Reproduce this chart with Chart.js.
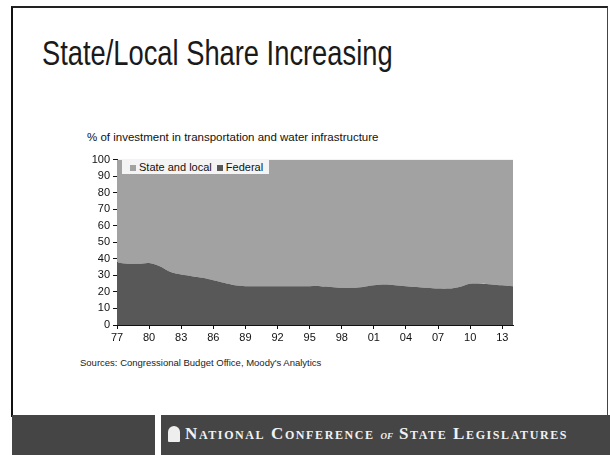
<!DOCTYPE html>
<html>
<head>
<meta charset="utf-8">
<script src="https://cdn.jsdelivr.net/npm/chart.js@4.4.0/dist/chart.umd.min.js"></script>
<style>
  html, body { margin: 0; padding: 0; background: #fff; }
  #page { position: relative; width: 610px; height: 455px; overflow: hidden; font-family: "Liberation Sans", Arial, sans-serif; }
  #frame { position: absolute; left: 11px; top: 6px; width: 594px; height: 409px; border-left: 2px solid #111; border-top: 2px solid #222; border-right: 1px solid #444; }
  #title { position: absolute; left: 42px; top: 33px; font-family: "Liberation Sans", sans-serif; font-size: 35px; color: #1a1a1a; white-space: nowrap; transform: scaleX(0.78); transform-origin: left top; }
  #subtitle { position: absolute; left: 87px; top: 131px; font-size: 11.5px; color: #111; white-space: nowrap; }
  #source { position: absolute; left: 80px; top: 357px; font-size: 9.5px; color: #222; white-space: nowrap; }
  #chartBox { position: absolute; left: 80px; top: 150px; width: 440px; height: 200px; }
  #legend { position: absolute; left: 122px; top: 160px; height: 14px; padding: 0 6px; background: #f4f4f4; font-size: 11px; color: #111; line-height: 14px; white-space: nowrap; }
  #legend span.sw { display: inline-block; width: 6px; height: 6px; margin: 0 3px 1px 2px; vertical-align: middle; }
  #bandL { position: absolute; left: 12px; top: 415px; width: 143px; height: 40px; background: #454545; }
  #bandR { position: absolute; left: 161px; top: 415px; width: 449px; height: 40px; background: #454545; }
  #org { position: absolute; left: 185px; top: 424px; font-family: "Liberation Serif", serif; font-variant: small-caps; font-weight: bold; font-size: 17px; letter-spacing: 1.6px; color: #f2f2f2; white-space: nowrap; }
  #org i { font-size: 13px; letter-spacing: 0; }
  #icon { position: absolute; left: 168px; top: 426px; width: 12px; height: 16px; background: #eee; border-radius: 6px 6px 1px 1px; }
</style>
</head>
<body>
<div id="page">
  <div id="frame"></div>
  <div id="title">State/Local Share Increasing</div>
  <div id="subtitle">% of investment in transportation and water infrastructure</div>
  <div id="chartBox"><canvas id="c" width="440" height="200"></canvas></div>
  <div id="legend"></div>
  <div id="source">Sources: Congressional Budget Office, Moody's Analytics</div>
  <div id="bandL"></div>
  <div id="bandR"></div>
  <div id="icon"></div>
  <div id="org">National Conference <i>of</i> State Legislatures</div>
</div>
<script>
const years = [1977, 1978, 1979, 1980, 1981, 1982, 1983, 1984, 1985, 1986,
  1987, 1988, 1989, 1990, 1991, 1992, 1993, 1994, 1995, 1996,
  1997, 1998, 1999, 2000, 2001, 2002, 2003, 2004, 2005, 2006,
  2007, 2008, 2009, 2010, 2011, 2012, 2013, 2014];
const federal = [38, 37, 37, 37.5, 35.5, 32, 30.5, 29.5, 28.5, 27,
  25.5, 24, 23.5, 23.5, 23.5, 23.5, 23.5, 23.5, 23.5, 23.5,
  23, 22.5, 22.5, 23, 24, 24.5, 24, 23.5, 23, 22.5,
  22, 22, 23, 25, 25, 24.5, 24, 23.5];
const stateLocal = [62, 63, 63, 62.5, 64.5, 68, 69.5, 70.5, 71.5, 73,
  74.5, 76, 76.5, 76.5, 76.5, 76.5, 76.5, 76.5, 76.5, 76.5,
  77, 77.5, 77.5, 77, 76, 75.5, 76, 76.5, 77, 77.5,
  78, 78, 77, 75, 75, 75.5, 76, 76.5];
const yTicks = [0, 10, 20, 30, 40, 50, 60, 70, 80, 90, 100];
const seriesNames = ["State and local", "Federal"];
const seriesColors = ["#a2a2a2", "#585858"];

const toPoints = (vals) => vals.map((v, i) => ({ x: years[i], y: v }));

const legend = document.getElementById("legend");
legend.innerHTML = seriesNames
  .map((n, i) => `<span class="sw" style="background:${seriesColors[i]}"></span>${n}`)
  .join("&nbsp;");

// federal is stacked first (bottom), state and local sits on top of it
new Chart(document.getElementById("c").getContext("2d"), {
  type: "line",
  data: {
    datasets: [
      {
        label: seriesNames[1],
        data: toPoints(federal),
        backgroundColor: seriesColors[1],
        borderColor: seriesColors[1],
        borderWidth: 0,
        pointRadius: 0,
        tension: 0.3,
        fill: "origin",
      },
      {
        label: seriesNames[0],
        data: toPoints(stateLocal),
        backgroundColor: seriesColors[0],
        borderColor: seriesColors[0],
        borderWidth: 0,
        pointRadius: 0,
        tension: 0.3,
        fill: "-1",
      },
    ],
  },
  options: {
    responsive: false,
    animation: false,
    layout: { padding: { top: 7, right: 7, left: 0, bottom: 0 } },
    plugins: { legend: { display: false }, tooltip: { enabled: false } },
    scales: {
      x: {
        type: "linear",
        min: 1977,
        max: 2014,
        border: { color: "#111", width: 1 },
        grid: { drawOnChartArea: false, tickLength: 4, color: "#111" },
        ticks: {
          stepSize: 3,
          includeBounds: false,
          color: "#111",
          padding: 2,
          font: { family: "Liberation Sans", size: 11 },
          callback: (v) => String(v).slice(2),
        },
        afterFit: (s) => { s.height = 25; },
      },
      y: {
        stacked: true,
        min: 0,
        max: 100,
        border: { color: "#111", width: 1 },
        grid: { drawOnChartArea: false, tickLength: 4, color: "#111" },
        afterBuildTicks: (s) => { s.ticks = yTicks.map((v) => ({ value: v })); },
        ticks: {
          color: "#111",
          padding: 3,
          font: { family: "Liberation Sans", size: 11 },
        },
        afterFit: (s) => { s.width = 37; },
      },
    },
  },
});
</script>
</body>
</html>
